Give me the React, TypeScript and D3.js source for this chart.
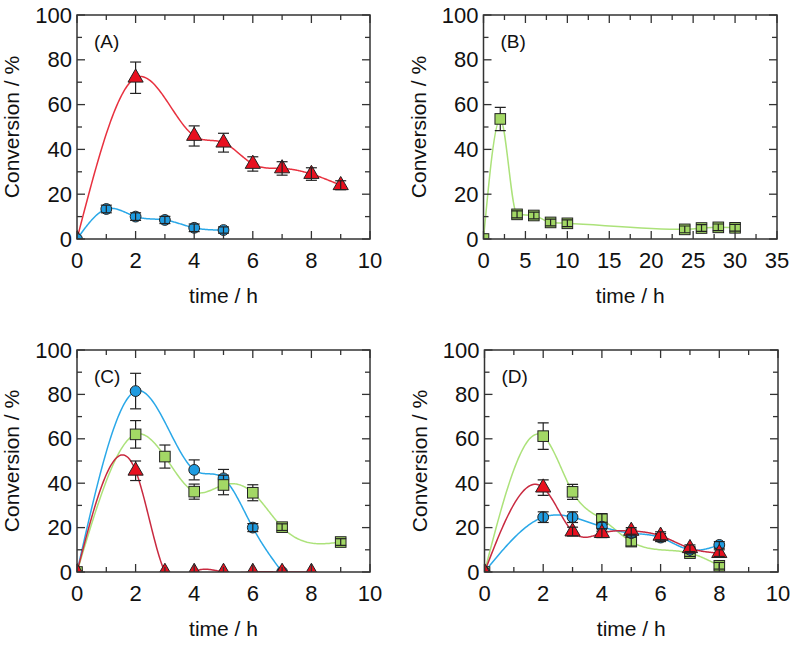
import React from 'react';
import * as d3 from 'd3';

const W = 794;
const H = 645;

// ---------- Panel A ----------
const tA_red = [0, 2, 4, 5, 6, 7, 8, 9];
const yA_red = [0, 72, 46, 43, 33.5, 31.5, 29, 24];
const eA_red = [0, 7, 4.5, 4.2, 3.2, 3, 2.8, 2];
const tA_blue = [0, 1, 2, 3, 4, 5];
const yA_blue = [0, 13.4, 10, 8.5, 5, 4];
const eA_blue = [0, 1.7, 1.7, 1.6, 1.7, 1.4];

// ---------- Panel B ----------
const tB_green = [0, 2, 4, 6, 8, 10, 24, 26, 28, 30];
const yB_green = [0, 53.6, 11, 10.5, 7.4, 7, 4.3, 4.9, 5.2, 5];
const eB_green = [0, 5.2, 1.6, 1.5, 1.5, 1.5, 1.5, 1.5, 1.5, 1.5];

// ---------- Panel C ----------
const tC_blue = [0, 2, 4, 5, 6, 7];
const yC_blue = [0, 81.5, 46, 42.2, 20, 0];
const eC_blue = [0, 8, 4.5, 4, 1.8, 0];
const tC_green = [0, 2, 3, 4, 5, 6, 7, 9];
const yC_green = [0, 62, 52, 36.2, 39.2, 35.7, 20.2, 13.5];
const eC_green = [0, 6.2, 5.2, 3.4, 4.4, 3.6, 1.5, 1.5];
const tC_red = [0, 2, 3, 4, 5, 6, 7, 8];
const yC_red = [0, 45.6, 0, 0, 0, 0, 0, 0];
const eC_red = [0, 4.4, 0, 0, 0, 0, 0, 0];

// ---------- Panel D ----------
const tD_green = [0, 2, 3, 4, 5, 7, 8];
const yD_green = [0, 61.2, 36.1, 23.8, 13.7, 8.5, 2.8];
const eD_green = [0, 6, 3.4, 2.5, 2, 1.5, 1.5];
const tD_blue = [0, 2, 3, 4, 5, 6, 7, 8];
const yD_blue = [0, 24.7, 24.7, 20.4, 17.5, 15.5, 10, 12.2];
const eD_blue = [0, 2.4, 2.4, 2, 1.8, 1.8, 1.5, 1.5];
const tD_red = [0, 2, 3, 4, 5, 6, 7, 8];
const yD_red = [0, 38, 18.2, 17.5, 18.5, 16.3, 10.7, 8.5];
const eD_red = [0, 3.5, 2, 2, 1.5, 1.8, 1.5, 1.5];

const yTicks = [0, 20, 40, 60, 80, 100];
const xLabel = 'time / h';
const yLabel = 'Conversion / %';

const RED_FILL = '#e8101f';
const RED_LINE_A = '#e8313f';
const RED_LINE = '#c92a40';
const BLUE_FILL = '#1f9be0';
const BLUE_LINE = '#2aa8e8';
const GREEN_FILL = '#a3d865';
const GREEN_LINE = '#ace27a';
const MARK_STROKE = '#222';
const FONT = '"Liberation Sans", Arial, sans-serif';

type Kind = 'tri' | 'circ' | 'sq';
type Smooth = 'spline' | 'monotone';
interface Series {
  t: number[];
  y: number[];
  e: number[];
  kind: Kind;
  fill: string;
  line: string;
  smooth: Smooth;
}
interface PanelCfg {
  id: string;
  label: string;
  left: number;
  right: number;
  top: number;
  bottom: number;
  xMax: number;
  xMajor: number;
  xMinor: number;
  series: Series[];
}

const panels: PanelCfg[] = [
  {
    id: 'A', label: '(A)', left: 77, right: 370, top: 15, bottom: 239,
    xMax: 10, xMajor: 2, xMinor: 1,
    series: [
      { t: tA_red, y: yA_red, e: eA_red, kind: 'tri', fill: RED_FILL, line: RED_LINE_A, smooth: 'spline' },
      { t: tA_blue, y: yA_blue, e: eA_blue, kind: 'circ', fill: BLUE_FILL, line: BLUE_LINE, smooth: 'spline' },
    ],
  },
  {
    id: 'B', label: '(B)', left: 483.5, right: 777, top: 15, bottom: 239,
    xMax: 35, xMajor: 5, xMinor: 2.5,
    series: [
      { t: tB_green, y: yB_green, e: eB_green, kind: 'sq', fill: GREEN_FILL, line: GREEN_LINE, smooth: 'monotone' },
    ],
  },
  {
    id: 'C', label: '(C)', left: 77, right: 370, top: 350, bottom: 572,
    xMax: 10, xMajor: 2, xMinor: 1,
    series: [
      { t: tC_blue, y: yC_blue, e: eC_blue, kind: 'circ', fill: BLUE_FILL, line: BLUE_LINE, smooth: 'spline' },
      { t: tC_green, y: yC_green, e: eC_green, kind: 'sq', fill: GREEN_FILL, line: GREEN_LINE, smooth: 'spline' },
      { t: tC_red, y: yC_red, e: eC_red, kind: 'tri', fill: RED_FILL, line: RED_LINE, smooth: 'spline' },
    ],
  },
  {
    id: 'D', label: '(D)', left: 484.5, right: 778, top: 350, bottom: 572,
    xMax: 10, xMajor: 2, xMinor: 1,
    series: [
      { t: tD_green, y: yD_green, e: eD_green, kind: 'sq', fill: GREEN_FILL, line: GREEN_LINE, smooth: 'spline' },
      { t: tD_blue, y: yD_blue, e: eD_blue, kind: 'circ', fill: BLUE_FILL, line: BLUE_LINE, smooth: 'spline' },
      { t: tD_red, y: yD_red, e: eD_red, kind: 'tri', fill: RED_FILL, line: RED_LINE, smooth: 'spline' },
    ],
  },
];

// natural cubic spline y(x), sampled densely
function splinePoints(xv: number[], yv: number[], per = 40): [number, number][] {
  const n = xv.length;
  if (n < 3) return xv.map((x, i) => [x, yv[i]]);
  const h = d3.range(n - 1).map((i) => xv[i + 1] - xv[i]);
  const M = new Array(n).fill(0);
  const m = n - 2;
  const a = new Array(m).fill(0), b = new Array(m).fill(0), c = new Array(m).fill(0), d = new Array(m).fill(0);
  for (let k = 0; k < m; k++) {
    const i = k + 1;
    a[k] = h[i - 1];
    b[k] = 2 * (h[i - 1] + h[i]);
    c[k] = h[i];
    d[k] = 6 * ((yv[i + 1] - yv[i]) / h[i] - (yv[i] - yv[i - 1]) / h[i - 1]);
  }
  for (let k = 1; k < m; k++) {
    const w = a[k] / b[k - 1];
    b[k] -= w * c[k - 1];
    d[k] -= w * d[k - 1];
  }
  const sol = new Array(m).fill(0);
  sol[m - 1] = d[m - 1] / b[m - 1];
  for (let k = m - 2; k >= 0; k--) sol[k] = (d[k] - c[k] * sol[k + 1]) / b[k];
  for (let k = 0; k < m; k++) M[k + 1] = sol[k];
  const out: [number, number][] = [];
  for (let i = 0; i < n - 1; i++) {
    const hi = h[i];
    for (let s = 0; s < per; s++) {
      const x = xv[i] + (hi * s) / per;
      const A = xv[i + 1] - x;
      const B = x - xv[i];
      const y =
        (M[i] * A * A * A) / (6 * hi) +
        (M[i + 1] * B * B * B) / (6 * hi) +
        (yv[i] / hi - (M[i] * hi) / 6) * A +
        (yv[i + 1] / hi - (M[i + 1] * hi) / 6) * B;
      out.push([x, y]);
    }
  }
  out.push([xv[n - 1], yv[n - 1]]);
  return out;
}

const triPath = d3.symbol().type(d3.symbolTriangle).size(100)() as string;
const MARK_HALF = 5.4;

function Marker({ kind, x, y, fill }: { kind: Kind; x: number; y: number; fill: string }) {
  if (kind === 'circ') return <circle cx={x} cy={y} r={5.4} fill={fill} stroke={MARK_STROKE} strokeWidth={1} />;
  if (kind === 'sq') return <rect x={x - 5.3} y={y - 5.3} width={10.6} height={10.6} fill={fill} stroke={MARK_STROKE} strokeWidth={1} />;
  return <path d={triPath} transform={`translate(${x},${y})`} fill={fill} stroke={MARK_STROKE} strokeWidth={1} />;
}

function ErrBar({ x, yTop, yBot }: { x: number; yTop: number; yBot: number }) {
  return (
    <g stroke="#222" strokeWidth={1.2}>
      <line x1={x} x2={x} y1={yTop} y2={yBot} />
      <line x1={x - 5.5} x2={x + 5.5} y1={yTop} y2={yTop} />
      <line x1={x - 5.5} x2={x + 5.5} y1={yBot} y2={yBot} />
    </g>
  );
}

function Panel({ p }: { p: PanelCfg }) {
  const xs = d3.scaleLinear().domain([0, p.xMax]).range([p.left, p.right]);
  const ys = d3.scaleLinear().domain([0, 100]).range([p.bottom, p.top]);
  const eps = 1e-6;
  const xMajors = d3.range(0, p.xMax + eps, p.xMajor);
  const xMinors = d3.range(0, p.xMax + eps, p.xMinor).filter((v) => Math.abs(v / p.xMajor - Math.round(v / p.xMajor)) > eps);
  const yMajors = yTicks;
  const yMinors = d3.range(10, 100, 20);
  const majLen = 8;
  const minLen = 5;
  const clipId = `clip-${p.id}`;
  const tickStroke = '#333';
  const ePx = (s: Series, i: number) => ys(0) - ys(s.e[i]);
  return (
    <g>
      <defs>
        <clipPath id={clipId}>
          <rect x={p.left} y={p.top} width={p.right - p.left} height={p.bottom - p.top} />
        </clipPath>
      </defs>
      <g clipPath={`url(#${clipId})`}>
        {p.series.map((s, si) => {
          const raw = s.t.map((t, i) => [t, s.y[i]] as [number, number]);
          const pts = s.smooth === 'spline' ? splinePoints(s.t, s.y) : raw;
          const line = d3
            .line<[number, number]>()
            .x((d) => xs(d[0]))
            .y((d) => ys(d[1]))
            .curve(s.smooth === 'spline' ? d3.curveLinear : d3.curveMonotoneX);
          return <path key={`l${si}`} d={line(pts) || ''} fill="none" stroke={s.line} strokeWidth={1.5} />;
        })}
        {p.series.map((s, si) => (
          <g key={`m${si}`}>
            {s.t.map((t, i) =>
              s.e[i] > 0 && ePx(s, i) > MARK_HALF + 1.5 ? (
                <ErrBar key={`eb${i}`} x={xs(t)} yTop={ys(s.y[i] + s.e[i])} yBot={ys(s.y[i] - s.e[i])} />
              ) : null
            )}
            {s.t.map((t, i) => (
              <Marker key={i} kind={s.kind} x={xs(t)} y={ys(s.y[i])} fill={s.fill} />
            ))}
            {s.t.map((t, i) =>
              s.e[i] > 0 && ePx(s, i) <= MARK_HALF + 1.5 ? (
                <ErrBar key={`ef${i}`} x={xs(t)} yTop={ys(s.y[i] + s.e[i])} yBot={ys(s.y[i] - s.e[i])} />
              ) : null
            )}
          </g>
        ))}
      </g>
      <g stroke={tickStroke} strokeWidth={1.3}>
        {xMajors.map((v) => (
          <g key={`xM${v}`}>
            <line x1={xs(v)} x2={xs(v)} y1={p.bottom} y2={p.bottom - majLen} />
            <line x1={xs(v)} x2={xs(v)} y1={p.top} y2={p.top + majLen} />
          </g>
        ))}
        {xMinors.map((v) => (
          <g key={`xm${v}`}>
            <line x1={xs(v)} x2={xs(v)} y1={p.bottom} y2={p.bottom - minLen} />
            <line x1={xs(v)} x2={xs(v)} y1={p.top} y2={p.top + minLen} />
          </g>
        ))}
        {yMajors.map((v) => (
          <g key={`yM${v}`}>
            <line x1={p.left} x2={p.left + majLen} y1={ys(v)} y2={ys(v)} />
            <line x1={p.right} x2={p.right - majLen} y1={ys(v)} y2={ys(v)} />
          </g>
        ))}
        {yMinors.map((v) => (
          <g key={`ym${v}`}>
            <line x1={p.left} x2={p.left + minLen} y1={ys(v)} y2={ys(v)} />
            <line x1={p.right} x2={p.right - minLen} y1={ys(v)} y2={ys(v)} />
          </g>
        ))}
      </g>
      <rect x={p.left} y={p.top} width={p.right - p.left} height={p.bottom - p.top} fill="none" stroke={tickStroke} strokeWidth={1.5} />
      <g fontFamily={FONT} fontSize={22} fill="#111">
        {xMajors.map((v) => (
          <text key={`xl${v}`} x={xs(v)} y={p.bottom + 29} textAnchor="middle">{d3.format('d')(v)}</text>
        ))}
        {yMajors.map((v) => (
          <text key={`yl${v}`} x={p.left - 5} y={ys(v) + 7.5} textAnchor="end">{v}</text>
        ))}
      </g>
      <text x={(p.left + p.right) / 2} y={p.bottom + 64} textAnchor="middle" fontFamily={FONT} fontSize={21} fill="#111">{xLabel}</text>
      <text transform={`translate(${p.left - 58},${(p.top + p.bottom) / 2}) rotate(-90)`} textAnchor="middle" fontFamily={FONT} fontSize={21} fill="#111">{yLabel}</text>
      <text x={p.left + 17} y={p.top + 33} fontFamily={FONT} fontSize={19} fill="#111">{p.label}</text>
    </g>
  );
}

export default function App() {
  return (
    <svg width={W} height={H} style={{ position: 'absolute', left: 0, top: 0, background: '#fff' }}>
      <rect width={W} height={H} fill="#fff" />
      {panels.map((p) => (
        <Panel key={p.id} p={p} />
      ))}
    </svg>
  );
}
